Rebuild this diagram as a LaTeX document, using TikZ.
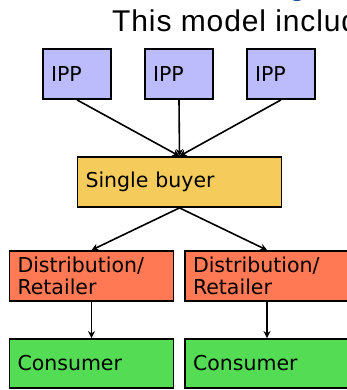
\documentclass[tikz,border=0pt]{standalone}
\usepackage{fontspec}
\setmainfont{DejaVu Sans}
\newfontfamily\titlefont[LetterSpace=3]{Liberation Sans}
\usetikzlibrary{arrows.meta}
\definecolor{ippfill}{RGB}{188,188,252}
\definecolor{sbfill}{RGB}{245,204,92}
\definecolor{distfill}{RGB}{255,121,85}
\definecolor{consfill}{RGB}{84,220,84}
\definecolor{titleblue}{RGB}{30,80,160}
\tikzset{
  boxbase/.style={draw=black, line width=1.8pt, rectangle, inner xsep=8pt, inner ysep=0pt,
    align=left, font=\fontsize{20.5}{22.5}\selectfont, anchor=center},
  ippbox/.style={boxbase, fill=ippfill, minimum width=68pt, minimum height=50pt, text width=52pt},
  sbbox/.style={boxbase, fill=sbfill, minimum width=204pt, minimum height=50pt, text width=188pt},
  distbox/.style={boxbase, fill=distfill, minimum width=164pt, minimum height=50pt, text width=148pt},
  consbox/.style={boxbase, fill=consfill, minimum width=164pt, minimum height=49pt, text width=148pt},
  conn/.style={draw=black, line width=1.6pt, -{Stealth[length=7pt,width=7pt]}},
}
\begin{document}
\begin{tikzpicture}[x=1pt,y=-1pt]
\useasboundingbox (0,0) rectangle (346,390);
\node[anchor=base west, font=\titlefont\fontsize{30}{31}\selectfont, inner sep=0pt] (title) at (112,31.5) {This model includes};
\node[anchor=base west, font=\titlefont\fontsize{29.5}{31}\selectfont, inner sep=0pt, text=titleblue] (toptext) at (289,-4) {g};
\node[ippbox] (ipp1) at (77,74) {IPP};
\node[ippbox] (ipp2) at (179,74) {IPP};
\node[ippbox] (ipp3) at (281,74) {IPP};
\node[sbbox] (sb) at (179.5,182) {Single buyer};
\node[distbox] (d1) at (91.5,276) {Distribution/\\Retailer};
\node[distbox] (d2) at (267,276) {Distribution/\\Retailer};
\node[consbox] (c1) at (91.5,363.5) {Consumer};
\node[consbox] (c2) at (267,363.5) {Consumer};
\draw[conn] (ipp1.south) -- (sb.north);
\draw[conn] (ipp2.south) -- (sb.north);
\draw[conn] (ipp3.south) -- (sb.north);
\draw[conn] (sb.south) -- (d1.north);
\draw[conn] (sb.south) -- (d2.north);
\draw[conn] (d1.south) -- (c1.north);
\draw[conn] (d2.south) -- (c2.north);
\end{tikzpicture}
\end{document}
